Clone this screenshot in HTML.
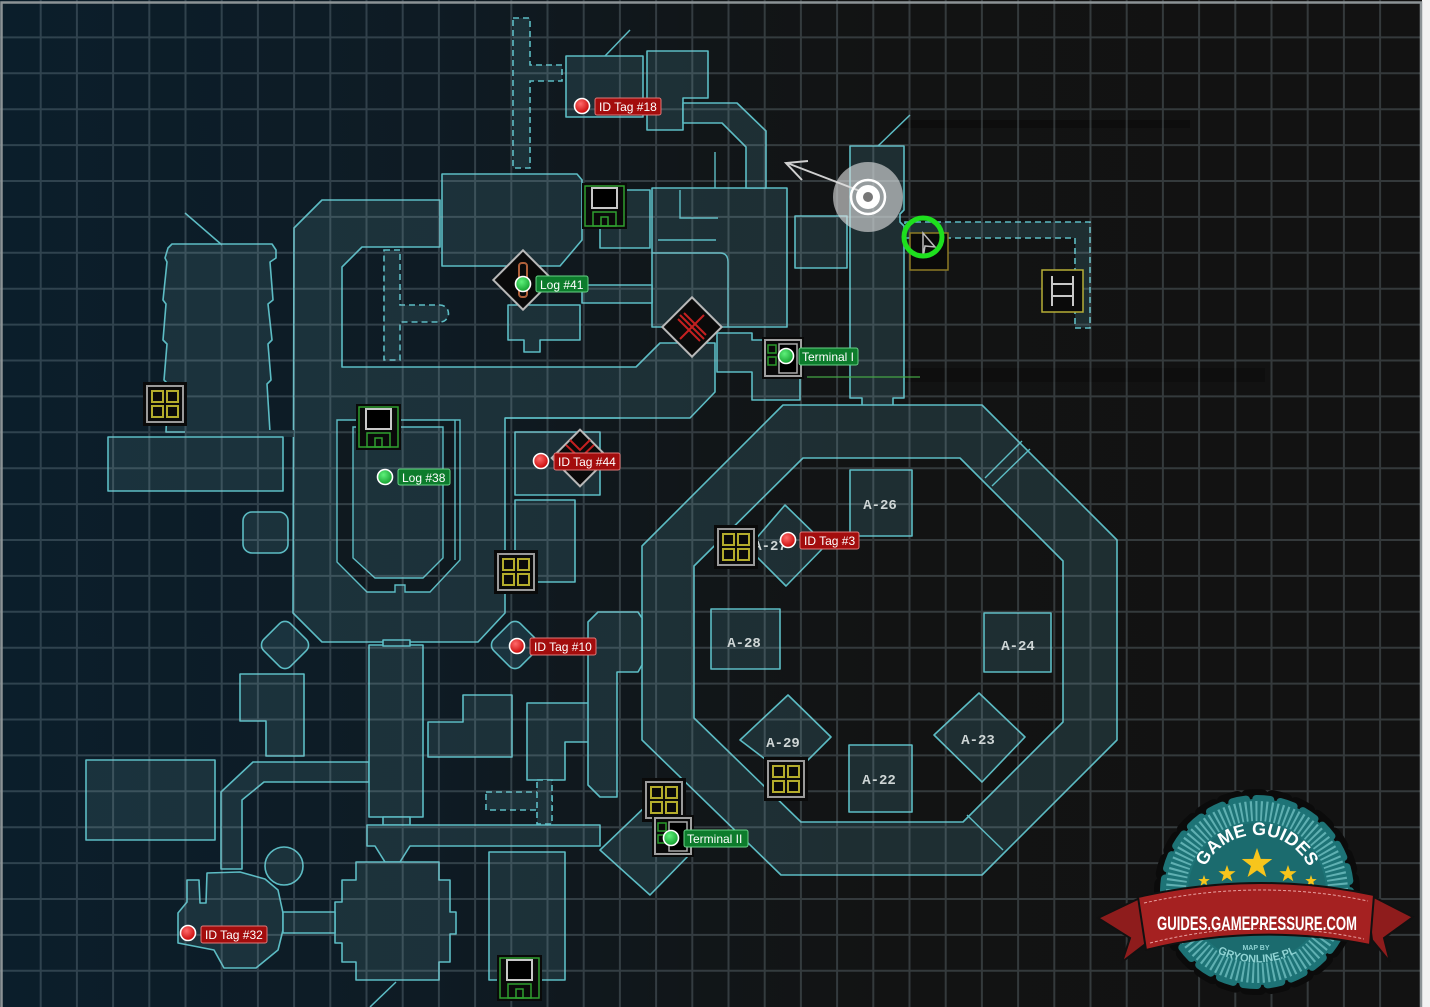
<!DOCTYPE html>
<html><head><meta charset="utf-8"><style>
html,body{margin:0;padding:0;background:#f2f2f2;}
svg{display:block;}
</style></head><body>
<svg width="1430" height="1007" viewBox="0 0 1430 1007" xmlns="http://www.w3.org/2000/svg">
<defs>
<linearGradient id="bg" gradientUnits="userSpaceOnUse" x1="0" y1="0" x2="1430" y2="0">
<stop offset="0" stop-color="#0b1e2b"/><stop offset="0.3" stop-color="#0e1b24"/><stop offset="0.48" stop-color="#111619"/><stop offset="0.62" stop-color="#121313"/><stop offset="1" stop-color="#121212"/>
</linearGradient>
<linearGradient id="rf" gradientUnits="userSpaceOnUse" x1="0" y1="0" x2="1430" y2="0">
<stop offset="0" stop-color="#1a333e"/><stop offset="0.35" stop-color="#1c3139"/><stop offset="0.6" stop-color="#1e2e32"/><stop offset="1" stop-color="#1f2d30"/>
</linearGradient>
<radialGradient id="rd" cx="0.4" cy="0.35" r="0.7"><stop offset="0" stop-color="#ff6a6a"/><stop offset="1" stop-color="#c40000"/></radialGradient>
<radialGradient id="gd" cx="0.4" cy="0.35" r="0.7"><stop offset="0" stop-color="#5ef07a"/><stop offset="1" stop-color="#0f9a2a"/></radialGradient>
<polygon id="st" points="0,-1 .235,-.324 .951,-.309 .38,.124 .588,.809 0,.4 -.588,.809 -.38,.124 -.951,-.309 -.235,-.324"/>
<g id="gi"><rect width="44" height="44" fill="#0a0a0a"/><rect x="4" y="4" width="36" height="36" fill="none" stroke="#9a9a9a" stroke-width="2"/><g fill="none" stroke="#b4ac2c" stroke-width="2"><rect x="9" y="9" width="11" height="11"/><rect x="24" y="9" width="11" height="11"/><rect x="9" y="24" width="11" height="11"/><rect x="24" y="24" width="11" height="11"/></g></g>
<g id="fl"><rect width="45" height="46" fill="#0a0a0a"/><rect x="3" y="3" width="39" height="40" fill="none" stroke="#2fa02f" stroke-width="1.5"/><rect x="10" y="5" width="25" height="20" fill="#000" stroke="#c8c8c8" stroke-width="2"/><rect x="11" y="29" width="23" height="14" fill="none" stroke="#2fa02f" stroke-width="1.5"/><rect x="19" y="34" width="7" height="9" fill="none" stroke="#2fa02f" stroke-width="1.5"/></g>
<g id="tm"><rect width="42" height="42" fill="#0a0a0a"/><rect x="3" y="3" width="36" height="36" fill="none" stroke="#a0a0a0" stroke-width="2"/><rect x="6" y="8" width="8" height="8" fill="none" stroke="#2a9a2a" stroke-width="1.5"/><rect x="6" y="20" width="8" height="8" fill="none" stroke="#2a9a2a" stroke-width="1.5"/><rect x="17" y="7" width="18" height="29" fill="#000" stroke="#aaa" stroke-width="1.5"/></g>
</defs>

<rect width="1430" height="1007" fill="url(#bg)"/>
<rect x="1422" y="0" width="8" height="1007" fill="#f2f2f2"/>

<!-- smudges -->
<rect x="900" y="120" width="290" height="8" fill="#080808" opacity="0.5"/>
<rect x="905" y="368" width="360" height="14" fill="#0a0a0a" opacity="0.5"/>

<g fill="url(#rf)" stroke="#5cbcc4" stroke-width="1.6" stroke-linejoin="round">
<polygon points="294,228 322,200 440,200 440,247 362,247 342,267 342,367 636,367 660,343 715,343 715,392 690,418 505,418 505,613 478,642 322,642 293,613"/>
<polygon points="442,174 577,174 582,180 582,240 560,266 442,266"/>
<rect x="600" y="190" width="50" height="58"/>
<rect x="652" y="188" width="135" height="139"/>
<rect x="795" y="216" width="52" height="52"/>
<polygon points="850,146 904,146 904,210 900,214 900,222 904,226 904,398 893,398 893,406 862,406 862,398 850,398"/>
<polygon points="717,333 752,333 752,340 800,340 800,400 752,400 752,372 717,372"/>
<polygon points="508,305 580,305 580,340 540,340 540,352 524,352 524,340 508,340"/>
<rect x="582" y="285" width="70" height="18"/>
<rect x="566" y="56" width="77" height="61"/>
<polygon points="647,51 708,51 708,98 683,98 683,130 647,130"/>
<polygon points="683,103 737,103 766,131 766,188 746,188 746,147 722,123 683,123"/>
<polygon points="168,248 172,244 272,244 276,250 276,258 270,262 273,300 268,304 272,340 268,344 271,380 267,384 270,432 166,432 168,384 164,380 167,344 163,340 166,304 163,300 167,262 165,258"/>
<rect x="185" y="430" width="109" height="7" stroke="none"/>
<rect x="108" y="437" width="175" height="54"/>
<rect x="243" y="512" width="45" height="41" rx="9"/>
<rect x="515" y="432" width="85" height="63"/>
<rect x="515" y="500" width="60" height="82"/>
<path fill-rule="evenodd" d="M783,405 L982,405 L1117,540 L1117,740 L982,875 L781,875 L642,740 L642,546 Z M803,458 L694,566 L694,718 L801,822 L963,822 L1063,722 L1063,561 L960,458 Z"/>
<rect x="850" y="470" width="62" height="66"/>
<rect x="711" y="609" width="69" height="60"/>
<rect x="984" y="613" width="67" height="59"/>
<rect x="849" y="745" width="63" height="67"/>
<polygon points="788,695 831,737 790,778 740,740"/>
<polygon points="979,693 1025,737 982,782 934,735"/>
<polygon points="785,505 826,545 786,586 748,548"/>
<rect x="-19" y="-19" width="38" height="38" rx="8" transform="translate(285,645) rotate(45)"/>
<rect x="-19" y="-19" width="38" height="38" rx="8" transform="translate(515,645) rotate(45)"/>
<polygon points="240,674 304,674 304,756 266,756 266,721 240,721"/>
<rect x="86" y="760" width="129" height="80"/>
<polygon points="221,792 253,762 369,762 369,782 264,782 242,800 242,869 221,869"/>
<rect x="369" y="645" width="54" height="172"/>
<rect x="383" y="640" width="27" height="6"/>
<rect x="383" y="817" width="27" height="8"/>
<polygon points="367,825 600,825 600,846 410,846 400,862 385,862 375,846 367,846"/>
<polygon points="356,862 439,862 439,880 450,880 450,912 456,912 456,934 450,934 450,962 439,962 439,980 356,980 356,962 342,962 342,943 335,943 335,902 342,902 342,880 356,880"/>
<circle cx="284" cy="866" r="19"/>
<polygon points="187,880 199,880 200,903 206,903 207,873 240,872 265,879 278,890 283,913 283,930 278,950 256,968 224,968 214,950 178,943 178,913 187,902"/>
<rect x="283" y="912" width="52" height="21"/>
<rect x="489" y="852" width="76" height="128"/>
<polygon points="463,695 512,695 512,757 428,757 428,722 463,722"/>
<polygon points="527,703 594,703 594,742 565,742 565,780 527,780"/>
<polygon points="598,612 638,612 642,618 642,665 638,672 617,672 617,797 600,797 588,785 588,622"/>
<polygon points="600,850 646,806 692,852 650,895"/>
</g>

<polygon points="337,420 460,420 460,560 430,592 405,592 405,585 395,585 395,592 367,592 337,562" fill="#0f191f" stroke="#5cbcc4" stroke-width="1.4"/>
<polygon points="353,427 443,427 443,558 423,578 375,578 353,558" fill="url(#rf)" stroke="#5cbcc4" stroke-width="1.4"/>

<g fill="url(#rf)" stroke="#5cbcc4" stroke-width="1.6" stroke-dasharray="6,4">
<polygon points="513,18 530,18 530,65 562,65 562,81 530,81 530,168 513,168"/>
<path d="M384,250 H400 V305 H440 A8.5,8.5 0 0 1 440,322 H400 V360 H384 Z"/>
<polygon points="905,222 1090,222 1090,328 1075,328 1075,238 905,238"/>
<rect x="486" y="792" width="66" height="18"/>
<rect x="537" y="780" width="15" height="44"/>
</g>

<g fill="none" stroke="#5cbcc4" stroke-width="1.4">
<path d="M652,253 H720 Q728,253 728,262 V327"/>
<path d="M680,190 V218 H718"/>
<path d="M658,240 H716"/>
<path d="M715,152 V188"/>
<path d="M985,478 L1022,441 M992,486 L1030,449"/>
<path d="M967,815 L1003,850"/>
<path d="M455,420 V560"/>
<path d="M505,418 H620"/>
</g>
<g stroke="#5cbcc4" stroke-width="1.5">
<line x1="605" y1="56" x2="630" y2="30"/>
<line x1="878" y1="146" x2="910" y2="115"/>
<line x1="185" y1="213" x2="222" y2="245"/>
<line x1="396" y1="982" x2="370" y2="1007"/>
</g>

<path stroke="rgba(170,192,198,0.23)" stroke-width="2" fill="none" d="M40.7 0V1007M76.9 0V1007M113.1 0V1007M149.3 0V1007M185.5 0V1007M221.7 0V1007M257.9 0V1007M294.1 0V1007M330.3 0V1007M366.5 0V1007M402.7 0V1007M438.9 0V1007M475.1 0V1007M511.3 0V1007M547.5 0V1007M583.7 0V1007M619.9 0V1007M656.1 0V1007M692.3 0V1007M728.5 0V1007M764.7 0V1007M800.9 0V1007M837.1 0V1007M873.3 0V1007M909.5 0V1007M945.7 0V1007M981.9 0V1007M1018.1 0V1007M1054.3 0V1007M1090.5 0V1007M1126.7 0V1007M1162.9 0V1007M1199.1 0V1007M1235.3 0V1007M1271.5 0V1007M1307.7 0V1007M1343.9 0V1007M1380.1 0V1007M0 37.4H1421M0 73.3H1421M0 109.2H1421M0 145.1H1421M0 181H1421M0 216.9H1421M0 252.8H1421M0 288.7H1421M0 324.6H1421M0 360.5H1421M0 396.4H1421M0 432.3H1421M0 468.2H1421M0 504.1H1421M0 540H1421M0 575.9H1421M0 611.8H1421M0 647.7H1421M0 683.6H1421M0 719.5H1421M0 755.4H1421M0 791.3H1421M0 827.2H1421M0 863.1H1421M0 899H1421M0 934.9H1421M0 970.8H1421"/>

<path d="M1.5,1007 V2.5 H1421 V1007" fill="none" stroke="#8c9396" stroke-width="2.5"/>

<g font-family="'Liberation Mono', monospace" font-weight="bold" font-size="14" fill="#cfd6d6" text-anchor="middle">
<text x="880" y="509">A-26</text>
<text x="770" y="550">A-27</text>
<text x="744" y="647">A-28</text>
<text x="1018" y="650">A-24</text>
<text x="783" y="747">A-29</text>
<text x="978" y="744">A-23</text>
<text x="879" y="784">A-22</text>
</g>

<use href="#gi" x="143" y="382"/>
<use href="#gi" x="494" y="550"/>
<use href="#gi" x="714" y="525"/>
<use href="#gi" x="764" y="757"/>
<use href="#gi" x="642" y="778"/>
<use href="#fl" x="582" y="183"/>
<use href="#fl" x="356" y="404"/>
<use href="#fl" x="497" y="955"/>
<use href="#tm" x="762" y="337"/>
<use href="#tm" x="652" y="815"/>

<g transform="translate(523,280) rotate(45)"><rect x="-21" y="-21" width="42" height="42" fill="#0a0a0a" stroke="#b8b8b8" stroke-width="2"/></g>
<rect x="519" y="263" width="8" height="34" rx="3" fill="none" stroke="#b0603a" stroke-width="2"/>
<g transform="translate(692,327) rotate(45)"><rect x="-21" y="-21" width="42" height="42" fill="#0a0a0a" stroke="#b8b8b8" stroke-width="2"/></g>
<g stroke="#c42020" stroke-width="2"><line x1="680" y1="315" x2="704" y2="339"/><line x1="680" y1="339" x2="704" y2="315"/><line x1="684" y1="313" x2="706" y2="335"/><line x1="678" y1="319" x2="700" y2="341"/></g>
<g transform="translate(580,458) rotate(45)"><rect x="-20" y="-20" width="40" height="40" fill="#0a0a0a" stroke="#b8b8b8" stroke-width="2"/></g>
<path d="M566,445 L580,458 L594,445 M570,440 L580,450 L590,440" fill="none" stroke="#c42020" stroke-width="2"/>

<line x1="860" y1="191" x2="787" y2="163" stroke="#cfcfcf" stroke-width="2"/>
<path d="M808,161 L786,163 L802,180" fill="none" stroke="#cfcfcf" stroke-width="2"/>
<circle cx="868" cy="197" r="35" fill="rgba(225,225,225,0.62)"/>
<circle cx="868" cy="197" r="17" fill="none" stroke="#fff" stroke-width="2.5"/>
<circle cx="868" cy="197" r="12" fill="#fff"/>
<circle cx="868" cy="197" r="5" fill="#777"/>
<rect x="910" y="233" width="38" height="37" fill="#0a0a0a" stroke="#8c7a24" stroke-width="1.5"/>
<path d="M923,233 L935,247 L925,246 L923,258 Z" fill="none" stroke="#bbb" stroke-width="1.5"/>
<circle cx="923" cy="237" r="19" fill="none" stroke="#1ee01e" stroke-width="5"/>
<line x1="807" y1="377" x2="920" y2="377" stroke="rgba(70,170,70,0.6)" stroke-width="2"/>
<rect x="1042" y="270" width="41" height="42" fill="#0a0a0a" stroke="#b6ae36" stroke-width="1.5"/>
<g stroke="#c8c8c8" stroke-width="2" fill="none"><path d="M1052,276 V306 M1073,276 V306 M1052,284 H1073 M1052,296 H1073"/></g>

<g stroke="#fff" stroke-width="1.6">
<circle cx="582" cy="106" r="7.5" fill="url(#rd)"/>
<circle cx="523" cy="284" r="7.5" fill="url(#gd)"/>
<circle cx="786" cy="356" r="7.5" fill="url(#gd)"/>
<circle cx="385" cy="477" r="7.5" fill="url(#gd)"/>
<circle cx="541" cy="461" r="7.5" fill="url(#rd)"/>
<circle cx="788" cy="540" r="7.5" fill="url(#rd)"/>
<circle cx="517" cy="646" r="7.5" fill="url(#rd)"/>
<circle cx="671" cy="838" r="7.5" fill="url(#gd)"/>
<circle cx="188" cy="933" r="7.5" fill="url(#rd)"/>
</g>
<g stroke-width="1">
<rect x="595" y="98" width="66" height="17" rx="2" fill="#a30d0d" stroke="#e07878"/>
<rect x="536" y="276" width="52" height="16" rx="2" fill="#0d7c2c" stroke="#66d286"/>
<rect x="799" y="348" width="59" height="17" rx="2" fill="#0d7c2c" stroke="#66d286"/>
<rect x="398" y="469" width="52" height="16" rx="2" fill="#0d7c2c" stroke="#66d286"/>
<rect x="554" y="453" width="66" height="17" rx="2" fill="#a30d0d" stroke="#e07878"/>
<rect x="800" y="532" width="59" height="17" rx="2" fill="#a30d0d" stroke="#e07878"/>
<rect x="530" y="638" width="66" height="17" rx="2" fill="#a30d0d" stroke="#e07878"/>
<rect x="684" y="830" width="64" height="17" rx="2" fill="#0d7c2c" stroke="#66d286"/>
<rect x="201" y="926" width="66" height="17" rx="2" fill="#a30d0d" stroke="#e07878"/>
</g>
<g font-family="'Liberation Sans', sans-serif" font-size="12" fill="#fff">
<text x="599" y="111">ID Tag #18</text>
<text x="540" y="289">Log #41</text>
<text x="802" y="361">Terminal I</text>
<text x="402" y="482">Log #38</text>
<text x="558" y="466">ID Tag #44</text>
<text x="804" y="545">ID Tag #3</text>
<text x="534" y="651">ID Tag #10</text>
<text x="687" y="843">Terminal II</text>
<text x="205" y="939">ID Tag #32</text>
</g>

<!-- badge -->
<g>
<circle cx="1257" cy="892" r="96" fill="none" stroke="#0b0b0b" stroke-width="14" stroke-dasharray="14 10.6" stroke-linecap="round"/>
<circle cx="1257" cy="892" r="93" fill="#1d7376"/>
<circle cx="1257" cy="892" r="93" fill="none" stroke="#1d7376" stroke-width="8" stroke-dasharray="14 10.3" stroke-linecap="round"/>
<circle cx="1257" cy="892" r="81" fill="none" stroke="#5fb0b2" stroke-width="20" stroke-dasharray="2 3"/>
<circle cx="1257" cy="892" r="69" fill="#1b6b6e"/>
<path id="arcTop" d="M1199,893 A58,58 0 0 1 1315,893" fill="none"/>
<text font-family="'Liberation Sans',sans-serif" font-weight="bold" font-size="18" fill="#fff" text-anchor="middle"><textPath href="#arcTop" startOffset="50%">GAME GUIDES</textPath></text>
<use href="#st" transform="translate(1257,864) scale(16)" fill="#f7c51c"/>
<use href="#st" transform="translate(1227,874) scale(9)" fill="#f7c51c"/>
<use href="#st" transform="translate(1288,874) scale(9)" fill="#f7c51c"/>
<use href="#st" transform="translate(1204,881) scale(6)" fill="#f7c51c"/>
<use href="#st" transform="translate(1311,881) scale(6)" fill="#f7c51c"/>
<path d="M1098,918 L1142,897 L1148,942 L1122,962 L1130,938 Z" fill="#8e1c1c" stroke="#111" stroke-width="2"/>
<path d="M1413,917 L1366,893 L1372,940 L1390,962 L1384,938 Z" fill="#8e1c1c" stroke="#111" stroke-width="2"/>
<path d="M1138,897 Q1257,870 1374,895 L1370,945 Q1257,922 1146,950 Z" fill="#a52121" stroke="#111" stroke-width="2"/>
<path d="M1144,903 Q1257,878 1368,901 M1150,943 Q1257,916 1364,939" fill="none" stroke="#e8a0a0" stroke-width="1" stroke-dasharray="3 2"/>
<text x="1257" y="930" font-family="'Liberation Sans',sans-serif" font-weight="bold" font-size="19" fill="#fff" text-anchor="middle" textLength="200" lengthAdjust="spacingAndGlyphs">GUIDES.GAMEPRESSURE.COM</text>
<text x="1256" y="950" font-family="'Liberation Sans',sans-serif" font-weight="bold" font-size="7" fill="#8fd3d3" text-anchor="middle">MAP BY</text>
<path id="arcBot" d="M1212,950 Q1257,975 1302,950" fill="none"/>
<text font-family="'Liberation Sans',sans-serif" font-weight="bold" font-size="11" fill="#8fd3d3" text-anchor="middle"><textPath href="#arcBot" startOffset="50%">GRYONLINE.PL</textPath></text>
</g>
</svg>
</body></html>
